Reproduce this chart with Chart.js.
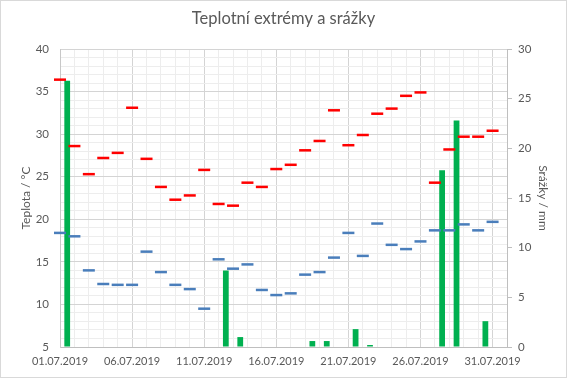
<!DOCTYPE html>
<html>
<head>
<meta charset="utf-8">
<script src="https://cdn.jsdelivr.net/npm/chart.js@4/dist/chart.umd.min.js"></script>
<style>
  html, body { margin: 0; padding: 0; background: #fff; }
  #wrap { width: 567px; height: 378px; }
</style>
</head>
<body>
<div id="wrap"><canvas id="c" width="567" height="378"></canvas></div>
<script>
const dates = ['01.07.2019','02.07.2019','03.07.2019','04.07.2019','05.07.2019','06.07.2019','07.07.2019','08.07.2019','09.07.2019','10.07.2019','11.07.2019','12.07.2019','13.07.2019','14.07.2019','15.07.2019','16.07.2019','17.07.2019','18.07.2019','19.07.2019','20.07.2019','21.07.2019','22.07.2019','23.07.2019','24.07.2019','25.07.2019','26.07.2019','27.07.2019','28.07.2019','29.07.2019','30.07.2019','31.07.2019'];
const tMax = [36.4, 28.6, 25.3, 27.2, 27.8, 33.1, 27.1, 23.8, 22.3, 22.8, 25.8, 21.8, 21.6, 24.3, 23.8, 25.9, 26.4, 28.1, 29.2, 32.8, 28.7, 29.9, 32.4, 33.0, 34.5, 34.9, 24.3, 28.2, 29.7, 29.7, 30.4];
const tMin = [18.4, 18.0, 14.0, 12.4, 12.3, 12.3, 16.2, 13.8, 12.3, 11.8, 9.5, 15.3, 14.2, 14.7, 11.7, 11.1, 11.3, 13.5, 13.8, 15.5, 18.4, 15.7, 19.5, 17.0, 16.5, 17.4, 18.7, 18.7, 19.4, 18.7, 19.7];
const precip = [26.8, 0, 0, 0, 0, 0, 0, 0, 0, 0, 0, 7.7, 1.0, 0, 0, 0, 0, 0.6, 0.6, 0, 1.8, 0.2, 0, 0, 0, 0, 17.8, 22.8, 0, 2.6, 0];
const tempTicks = [5, 10, 15, 20, 25, 30, 35, 40];
const rainTicks = [0, 5, 10, 15, 20, 25, 30];

const TXT = '#595959';
const FONT = 'Lato, "Open Sans", sans-serif';
const MAJOR = '#D4D4D4';
const MINOR = '#EDEDED';

const frame = {
  id: 'frame',
  beforeDraw(chart) {
    const ctx = chart.ctx;
    ctx.save();
    ctx.fillStyle = '#fff';
    ctx.fillRect(0, 0, chart.width, chart.height);
    ctx.restore();
  },
  afterDraw(chart) {
    const ctx = chart.ctx;
    ctx.save();
    ctx.strokeStyle = '#D9D9D9';
    ctx.lineWidth = 1;
    ctx.strokeRect(0.5, 0.5, chart.width - 1, chart.height - 1);
    ctx.restore();
  }
};

new Chart(document.getElementById('c'), {
  type: 'bar',
  data: {
    datasets: [
      {
        type: 'line',
        label: 'Max',
        data: tMax.map((v, i) => ({ x: i, y: v })),
        yAxisID: 'y',
        showLine: false,
        clip: false,
        pointStyle: 'line',
        pointRadius: 6,
        pointBorderWidth: 2.5,
        pointBorderColor: '#FF0000',
        pointBackgroundColor: '#FF0000',
        order: 1
      },
      {
        type: 'line',
        label: 'Min',
        data: tMin.map((v, i) => ({ x: i, y: v })),
        yAxisID: 'y',
        showLine: false,
        clip: false,
        pointStyle: 'line',
        pointRadius: 6,
        pointBorderWidth: 2.5,
        pointBorderColor: '#4A7EBB',
        pointBackgroundColor: '#4A7EBB',
        order: 1
      },
      {
        type: 'bar',
        label: 'Srážky',
        data: precip.map((v, i) => ({ x: i + 0.5, y: v })),
        yAxisID: 'y2',
        backgroundColor: '#00B050',
        borderWidth: 0,
        categoryPercentage: 1,
        barPercentage: 0.4,
        order: 2
      }
    ]
  },
  options: {
    responsive: false,
    animation: false,
    devicePixelRatio: 1,
    layout: { padding: 0 },
    plugins: {
      legend: { display: false },
      tooltip: { enabled: false },
      title: {
        display: true,
        text: 'Teplotní extrémy a srážky',
        color: TXT,
        font: { family: FONT, size: 16.5, weight: 'normal', lineHeight: 1.2 },
        padding: { top: 9, bottom: 20.2 }
      }
    },
    scales: {
      x: {
        type: 'linear',
        min: 0,
        max: 31,
        offset: false,
        grid: {
          offset: false,
          drawTicks: false,
          color: (c) => (c.tick && c.tick.value % 5 === 0) ? MAJOR : MINOR
        },
        border: { display: true, color: '#BFBFBF' },
        ticks: {
          stepSize: 1,
          autoSkip: false,
          maxRotation: 0,
          minRotation: 0,
          padding: 8,
          color: TXT,
          font: { family: FONT, size: 11 },
          callback: (v) => (v % 5 === 0 && v < dates.length) ? dates[v] : ''
        },
        afterFit: (s) => { s.height = 31; }
      },
      y: {
        type: 'linear',
        position: 'left',
        min: 5,
        max: 40,
        grid: {
          drawTicks: false,
          color: (c) => (c.tick && tempTicks.includes(c.tick.value)) ? MAJOR : MINOR
        },
        border: { display: true, color: '#C8C8C8' },
        ticks: {
          stepSize: 1,
          autoSkip: false,
          padding: 11,
          color: TXT,
          font: { family: FONT, size: 11.5 },
          callback: (v) => tempTicks.includes(v) ? String(v) : ''
        },
        title: {
          display: true,
          text: 'Teplota / °C',
          color: TXT,
          font: { family: FONT, size: 12, weight: 'normal', lineHeight: 1.2 },
          padding: { top: 19, bottom: 0 }
        },
        afterFit: (s) => { s.width = 60; }
      },
      y2: {
        type: 'linear',
        position: 'right',
        min: 0,
        max: 30,
        grid: {
          drawOnChartArea: false,
          drawTicks: true,
          tickLength: 5,
          color: '#BFBFBF'
        },
        border: { display: true, color: '#BFBFBF' },
        ticks: {
          stepSize: 5,
          padding: 6,
          color: TXT,
          font: { family: FONT, size: 11.5 },
          callback: (v) => rainTicks.includes(v) ? String(v) : ''
        },
        title: {
          display: true,
          text: 'Srážky / mm',
          color: TXT,
          font: { family: FONT, size: 12, weight: 'normal', lineHeight: 1.2 },
          padding: { top: 17, bottom: 0 }
        },
        afterFit: (s) => { s.width = 60; }
      }
    }
  },
  plugins: [frame]
});
</script>
</body>
</html>
